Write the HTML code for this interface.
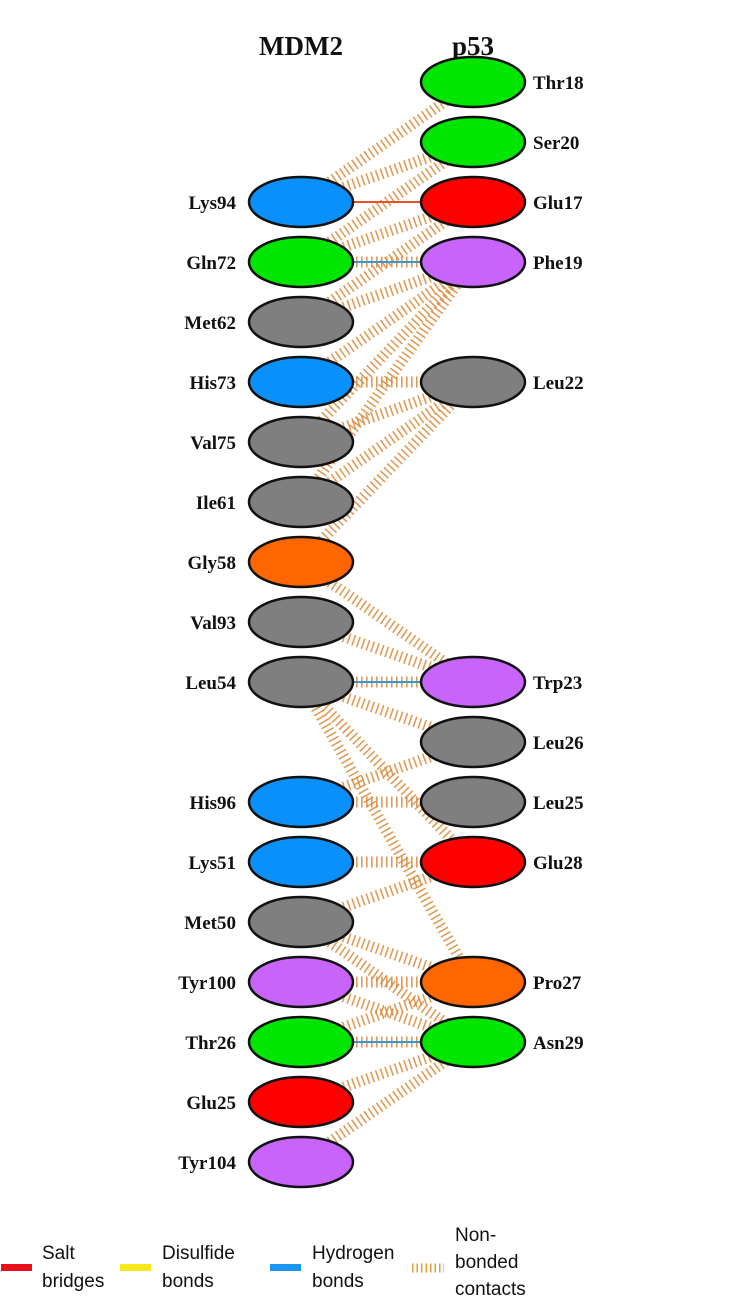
<!DOCTYPE html>
<html><head><meta charset="utf-8"><style>
body{margin:0;background:#fff;}
svg{display:block}
.l{font-family:"Liberation Serif",serif;font-weight:bold;font-size:19px;fill:#111}
.h{font-family:"Liberation Serif",serif;font-weight:bold;font-size:27px;fill:#111}
.g{font-family:"Liberation Sans",sans-serif;font-size:19px;fill:#111}
.c{stroke:#d98a3a;stroke-width:11;stroke-dasharray:1.6,3.4;fill:none;opacity:.85}
</style></head><body>
<svg width="749" height="1307" viewBox="0 0 749 1307" xmlns="http://www.w3.org/2000/svg">
<text class="h" x="301" y="55" text-anchor="middle">MDM2</text>
<text class="h" x="473" y="55" text-anchor="middle">p53</text>
<g id="contacts">
<line class="c" x1="301" y1="202" x2="473" y2="82"/>
<line class="c" x1="301" y1="202" x2="473" y2="142"/>
<line class="c" x1="301" y1="262" x2="473" y2="142"/>
<line class="c" x1="301" y1="262" x2="473" y2="202"/>
<line class="c" x1="301" y1="262" x2="473" y2="262"/>
<line class="c" x1="301" y1="322" x2="473" y2="202"/>
<line class="c" x1="301" y1="322" x2="473" y2="262"/>
<line class="c" x1="301" y1="382" x2="473" y2="262"/>
<line class="c" x1="301" y1="382" x2="473" y2="382"/>
<line class="c" x1="301" y1="442" x2="473" y2="262"/>
<line class="c" x1="301" y1="442" x2="473" y2="382"/>
<line class="c" x1="301" y1="502" x2="473" y2="262"/>
<line class="c" x1="301" y1="502" x2="473" y2="382"/>
<line class="c" x1="301" y1="562" x2="473" y2="382"/>
<line class="c" x1="301" y1="562" x2="473" y2="682"/>
<line class="c" x1="301" y1="622" x2="473" y2="682"/>
<line class="c" x1="301" y1="682" x2="473" y2="682"/>
<line class="c" x1="301" y1="682" x2="473" y2="742"/>
<line class="c" x1="301" y1="682" x2="473" y2="982"/>
<line class="c" x1="301" y1="682" x2="473" y2="862"/>
<line class="c" x1="301" y1="802" x2="473" y2="742"/>
<line class="c" x1="301" y1="802" x2="473" y2="802"/>
<line class="c" x1="301" y1="862" x2="473" y2="862"/>
<line class="c" x1="301" y1="922" x2="473" y2="862"/>
<line class="c" x1="301" y1="922" x2="473" y2="982"/>
<line class="c" x1="301" y1="922" x2="473" y2="1042"/>
<line class="c" x1="301" y1="982" x2="473" y2="982"/>
<line class="c" x1="301" y1="982" x2="473" y2="1042"/>
<line class="c" x1="301" y1="1042" x2="473" y2="982"/>
<line class="c" x1="301" y1="1042" x2="473" y2="1042"/>
<line class="c" x1="301" y1="1102" x2="473" y2="1042"/>
<line class="c" x1="301" y1="1162" x2="473" y2="1042"/>
</g>
<line x1="353" y1="202" x2="421" y2="202" stroke="#e8502a" stroke-width="2"/>
<line x1="353" y1="262" x2="421" y2="262" stroke="#3a96d0" stroke-width="2"/>
<line x1="353" y1="682" x2="421" y2="682" stroke="#3a96d0" stroke-width="2"/>
<line x1="353" y1="1042" x2="421" y2="1042" stroke="#3a96d0" stroke-width="2"/>
<g stroke="#111" stroke-width="2.5">
<ellipse cx="301" cy="202" rx="52" ry="25" fill="#0a90fa"/>
<ellipse cx="301" cy="262" rx="52" ry="25" fill="#00e600"/>
<ellipse cx="301" cy="322" rx="52" ry="25" fill="#7f7f7f"/>
<ellipse cx="301" cy="382" rx="52" ry="25" fill="#0a90fa"/>
<ellipse cx="301" cy="442" rx="52" ry="25" fill="#7f7f7f"/>
<ellipse cx="301" cy="502" rx="52" ry="25" fill="#7f7f7f"/>
<ellipse cx="301" cy="562" rx="52" ry="25" fill="#ff6600"/>
<ellipse cx="301" cy="622" rx="52" ry="25" fill="#7f7f7f"/>
<ellipse cx="301" cy="682" rx="52" ry="25" fill="#7f7f7f"/>
<ellipse cx="301" cy="802" rx="52" ry="25" fill="#0a90fa"/>
<ellipse cx="301" cy="862" rx="52" ry="25" fill="#0a90fa"/>
<ellipse cx="301" cy="922" rx="52" ry="25" fill="#7f7f7f"/>
<ellipse cx="301" cy="982" rx="52" ry="25" fill="#c864fa"/>
<ellipse cx="301" cy="1042" rx="52" ry="25" fill="#00e600"/>
<ellipse cx="301" cy="1102" rx="52" ry="25" fill="#ff0000"/>
<ellipse cx="301" cy="1162" rx="52" ry="25" fill="#c864fa"/>
<ellipse cx="473" cy="82" rx="52" ry="25" fill="#00e600"/>
<ellipse cx="473" cy="142" rx="52" ry="25" fill="#00e600"/>
<ellipse cx="473" cy="202" rx="52" ry="25" fill="#ff0000"/>
<ellipse cx="473" cy="262" rx="52" ry="25" fill="#c864fa"/>
<ellipse cx="473" cy="382" rx="52" ry="25" fill="#7f7f7f"/>
<ellipse cx="473" cy="682" rx="52" ry="25" fill="#c864fa"/>
<ellipse cx="473" cy="742" rx="52" ry="25" fill="#7f7f7f"/>
<ellipse cx="473" cy="802" rx="52" ry="25" fill="#7f7f7f"/>
<ellipse cx="473" cy="862" rx="52" ry="25" fill="#ff0000"/>
<ellipse cx="473" cy="982" rx="52" ry="25" fill="#ff6600"/>
<ellipse cx="473" cy="1042" rx="52" ry="25" fill="#00e600"/>
</g>
<g class="l" text-anchor="end">
<text x="236" y="209">Lys94</text>
<text x="236" y="269">Gln72</text>
<text x="236" y="329">Met62</text>
<text x="236" y="389">His73</text>
<text x="236" y="449">Val75</text>
<text x="236" y="509">Ile61</text>
<text x="236" y="569">Gly58</text>
<text x="236" y="629">Val93</text>
<text x="236" y="689">Leu54</text>
<text x="236" y="809">His96</text>
<text x="236" y="869">Lys51</text>
<text x="236" y="929">Met50</text>
<text x="236" y="989">Tyr100</text>
<text x="236" y="1049">Thr26</text>
<text x="236" y="1109">Glu25</text>
<text x="236" y="1169">Tyr104</text>
</g>
<g class="l">
<text x="533" y="89">Thr18</text>
<text x="533" y="149">Ser20</text>
<text x="533" y="209">Glu17</text>
<text x="533" y="269">Phe19</text>
<text x="533" y="389">Leu22</text>
<text x="533" y="689">Trp23</text>
<text x="533" y="749">Leu26</text>
<text x="533" y="809">Leu25</text>
<text x="533" y="869">Glu28</text>
<text x="533" y="989">Pro27</text>
<text x="533" y="1049">Asn29</text>
</g>
<rect x="1" y="1264" width="31" height="7" fill="#e8101a"/>
<rect x="120" y="1264" width="31" height="7" fill="#f8e81a"/>
<rect x="270" y="1264" width="31" height="7" fill="#1a96f0"/>
<line x1="412" y1="1268" x2="444" y2="1268" stroke="#e0a030" stroke-width="9" stroke-dasharray="1.5,3"/>
<g class="g">
<text x="42" y="1259">Salt</text><text x="42" y="1287">bridges</text>
<text x="162" y="1259">Disulfide</text><text x="162" y="1287">bonds</text>
<text x="312" y="1259">Hydrogen</text><text x="312" y="1287">bonds</text>
<text x="455" y="1241">Non-</text><text x="455" y="1268">bonded</text><text x="455" y="1295">contacts</text>
</g>
</svg>
</body></html>
